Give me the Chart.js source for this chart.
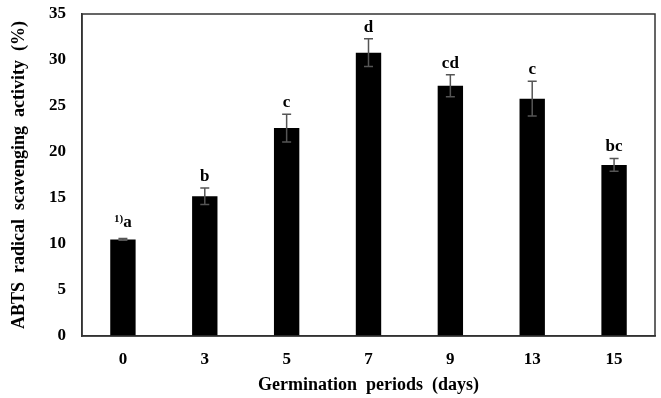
<!DOCTYPE html>
<html>
<head>
<meta charset="utf-8">
<script src="https://cdn.jsdelivr.net/npm/chart.js@4"></script>
<style>
  html, body { margin: 0; padding: 0; background: #fff; }
  #wrap { width: 661px; height: 398px; }
</style>
</head>
<body>
<div id="wrap"><canvas id="abtsChart" width="661" height="398"></canvas></div>
<script>
const periods = ['0', '3', '5', '7', '9', '13', '15'];
const activity = [10.5, 15.2, 22.6, 30.8, 27.2, 25.8, 18.6];
const errors = [0.1, 0.9, 1.5, 1.5, 1.2, 1.9, 0.7];
const letters = ['a', 'b', 'c', 'd', 'cd', 'c', 'bc'];
const footnoteMark = '1)';
const yMin = 0;
const yMax = 35;
const yStep = 5;

const serif = '"Liberation Serif", "Times New Roman", serif';

// error bars, significance letters and the box around the plot
const decorPlugin = {
    id: 'decor',
    afterDatasetsDraw(chart) {
        const ctx = chart.ctx;
        const xs = chart.scales.x;
        const ys = chart.scales.y;
        const area = chart.chartArea;

        ctx.save();
        ctx.strokeStyle = '#555';
        ctx.lineWidth = 1.5;
        activity.forEach((v, i) => {
            const x = xs.getPixelForValue(i);
            const top = ys.getPixelForValue(v + errors[i]);
            const bot = ys.getPixelForValue(v - errors[i]);
            ctx.beginPath();
            ctx.moveTo(x, top); ctx.lineTo(x, bot);
            ctx.moveTo(x - 4.5, top); ctx.lineTo(x + 4.5, top);
            ctx.moveTo(x - 4.5, bot); ctx.lineTo(x + 4.5, bot);
            ctx.stroke();
        });

        ctx.fillStyle = '#000';
        ctx.textBaseline = 'alphabetic';
        letters.forEach((txt, i) => {
            const x = xs.getPixelForValue(i);
            const y = ys.getPixelForValue(activity[i] + errors[i]) - 7;
            ctx.font = 'bold 17px ' + serif;
            if (i === 0) {
                const wMain = ctx.measureText(txt).width;
                ctx.font = 'bold 11px ' + serif;
                const wSup = ctx.measureText(footnoteMark).width;
                const start = x - (wMain + wSup) / 2;
                ctx.textAlign = 'left';
                ctx.fillText(footnoteMark, start, y - 9);
                ctx.font = 'bold 17px ' + serif;
                ctx.fillText(txt, start + wSup, y - 4);
            } else {
                ctx.textAlign = 'center';
                ctx.fillText(txt, x, y);
            }
        });

        ctx.strokeStyle = '#333';
        ctx.lineWidth = 1.5;
        ctx.strokeRect(area.left, area.top, area.right - area.left, area.bottom - area.top);
        ctx.restore();
    }
};

new Chart(document.getElementById('abtsChart'), {
    type: 'bar',
    data: {
        labels: periods,
        datasets: [{
            data: activity,
            backgroundColor: '#000',
            borderWidth: 0,
            barPercentage: 0.31,
            categoryPercentage: 1
        }]
    },
    options: {
        responsive: false,
        animation: false,
        devicePixelRatio: 1,
        layout: { padding: { top: 14, right: 6, left: 0, bottom: 0 } },
        plugins: {
            legend: { display: false },
            tooltip: { enabled: false }
        },
        scales: {
            x: {
                grid: { display: false, drawTicks: false },
                border: { display: true, color: '#333', width: 1.5 },
                ticks: {
                    color: '#000',
                    padding: 13,
                    font: { family: serif, size: 17, weight: 'bold' }
                },
                title: {
                    display: true,
                    text: 'Germination  periods  (days)',
                    color: '#000',
                    padding: { top: 0, bottom: 2 },
                    font: { family: serif, size: 18, weight: 'bold' }
                },
                afterFit(scale) { scale.height = 62; }
            },
            y: {
                min: yMin,
                max: yMax,
                grid: { display: false, drawTicks: false },
                border: { display: true, color: '#333', width: 1.5 },
                ticks: {
                    stepSize: yStep,
                    color: '#000',
                    padding: 16,
                    font: { family: serif, size: 17, weight: 'bold' }
                },
                title: {
                    display: true,
                    text: 'ABTS  radical  scavenging  activity  (%)',
                    color: '#000',
                    padding: { top: 9, bottom: 0 },
                    font: { family: serif, size: 18, weight: 'bold' }
                },
                afterFit(scale) {
                    scale.width = 82;
                    scale.paddingTop = 0;
                    scale.paddingBottom = 0;
                }
            }
        }
    },
    plugins: [decorPlugin]
});
</script>
</body>
</html>
